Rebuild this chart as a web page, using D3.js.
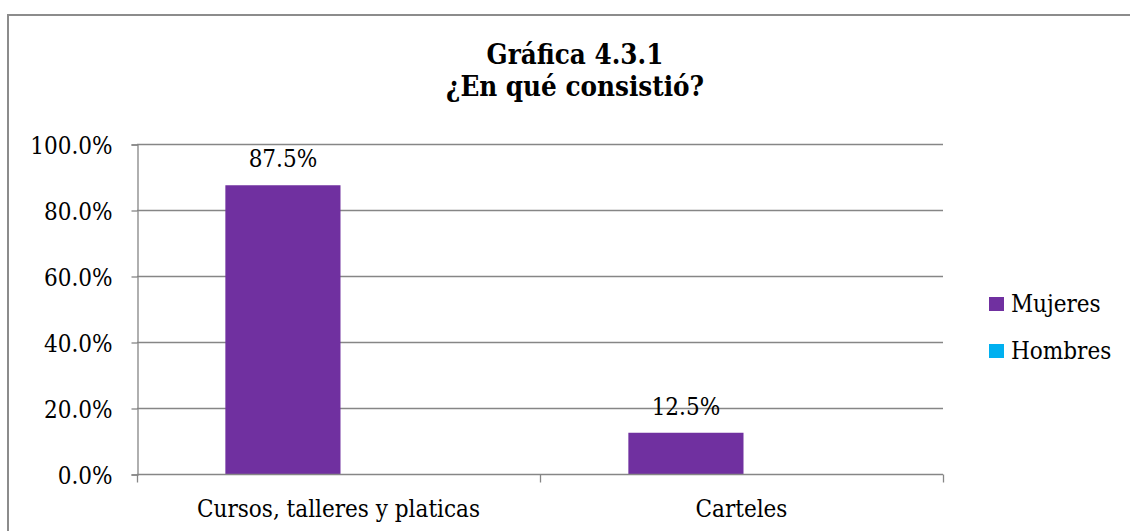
<!DOCTYPE html>
<html>
<head>
<meta charset="utf-8">
<script src="https://cdn.jsdelivr.net/npm/d3@7/dist/d3.min.js"></script>
<style>
  html, body { margin: 0; padding: 0; background: #fff; }
  svg { display: block; }
  text { font-family: "DejaVu Serif Condensed", "DejaVu Serif", serif; font-stretch: condensed; fill: #000; }
</style>
</head>
<body>
<svg id="chart" width="1130" height="531"></svg>
<script>
// Survey answers: "¿En qué consistió?"
const categories = ["Cursos, talleres y platicas", "Carteles"];
const seriesNames = ["Mujeres", "Hombres"];
const mujeres = [87.5, 12.5];
const hombres = [0, 0];
const yTicks = [0, 20, 40, 60, 80, 100];
const titleLines = ["Gráfica 4.3.1", "¿En qué consistió?"];

const colors = { Mujeres: "#7030A0", Hombres: "#00B0F0" };
const gridColor = "#868686";
const labelSize = 24;

const svg = d3.select("#chart");

// Chart frame (runs past the right and bottom edges of the view)
svg.append("rect")
  .attr("x", 8).attr("y", 15)
  .attr("width", 1140).attr("height", 540)
  .attr("fill", "none")
  .attr("stroke", "#8c8c8c")
  .attr("stroke-width", 2);

// Title, one text element per line
svg.append("g")
  .selectAll("text")
  .data(titleLines)
  .join("text")
  .attr("x", 575)
  .attr("y", (d, i) => 64 + i * 32)
  .attr("text-anchor", "middle")
  .attr("font-weight", "bold")
  .attr("font-size", 27.5)
  .text(d => d);

const plot = { left: 137, right: 943, top: 144, bottom: 474 };

const x = d3.scaleBand()
  .domain(categories)
  .range([plot.left, plot.right])
  .paddingInner(0)
  .paddingOuter(0);

const xSeries = d3.scaleBand()
  .domain(seriesNames)
  .range([0, x.bandwidth()])
  .paddingInner(0)
  .paddingOuter(0.75);

const y = d3.scaleLinear()
  .domain([0, 100])
  .range([plot.bottom, plot.top]);

// Horizontal gridlines
svg.append("g")
  .selectAll("line")
  .data(yTicks.filter(d => d > 0))
  .join("line")
  .attr("x1", plot.left)
  .attr("x2", plot.right)
  .attr("y1", d => y(d) + 0.5)
  .attr("y2", d => y(d) + 0.5)
  .attr("stroke", gridColor)
  .attr("stroke-width", 1.3);

// Y axis
const yAxis = d3.axisLeft(y)
  .tickValues(yTicks)
  .tickSize(6)
  .tickPadding(19)
  .tickFormat(d => d.toFixed(1) + "%");

const gy = svg.append("g")
  .attr("transform", `translate(${plot.left + 0.5},0.5)`)
  .call(yAxis);
gy.select(".domain").attr("stroke", gridColor).attr("stroke-width", 1.3);
gy.selectAll(".tick line").attr("stroke", gridColor).attr("stroke-width", 1.3);
gy.selectAll(".tick text")
  .attr("font-size", labelSize)
  .attr("font-family", null)
  .attr("fill", "#000")
  .attr("dy", "0.36em");

// Bars
const rows = categories.map((c, i) => ({
  category: c,
  values: [
    { series: "Mujeres", value: mujeres[i] },
    { series: "Hombres", value: hombres[i] }
  ]
}));

const groups = svg.append("g")
  .selectAll("g")
  .data(rows)
  .join("g")
  .attr("transform", d => `translate(${x(d.category) + 2},0)`);

groups.selectAll("rect")
  .data(d => d.values.filter(v => v.value > 0))
  .join("rect")
  .attr("x", d => xSeries(d.series))
  .attr("width", xSeries.bandwidth())
  .attr("y", d => y(d.value))
  .attr("height", d => y(0) - y(d.value))
  .attr("fill", d => colors[d.series]);

groups.selectAll("text.value")
  .data(d => d.values.filter(v => v.value > 0))
  .join("text")
  .attr("class", "value")
  .attr("x", d => xSeries(d.series) + xSeries.bandwidth() / 2)
  .attr("y", d => y(d.value) - 18)
  .attr("text-anchor", "middle")
  .attr("font-size", labelSize)
  .text(d => d.value.toFixed(1) + "%");

// X axis
const gx = svg.append("g")
  .attr("transform", `translate(0,${plot.bottom + 0.5})`);
gx.append("line")
  .attr("x1", plot.left).attr("x2", plot.right)
  .attr("stroke", gridColor).attr("stroke-width", 1.3);
const boundaries = [plot.left, ...categories.map(c => x(c) + x.bandwidth())];
gx.selectAll("line.tick")
  .data(boundaries)
  .join("line")
  .attr("class", "tick")
  .attr("x1", d => d + 0.5).attr("x2", d => d + 0.5)
  .attr("y1", 0).attr("y2", 8)
  .attr("stroke", gridColor).attr("stroke-width", 1.3);
gx.selectAll("text")
  .data(categories)
  .join("text")
  .attr("x", d => x(d) + x.bandwidth() / 2)
  .attr("y", 42)
  .attr("text-anchor", "middle")
  .attr("font-size", labelSize)
  .text(d => d);

// Legend
const legend = svg.append("g")
  .attr("transform", "translate(989,297)");
const items = legend.selectAll("g")
  .data(seriesNames)
  .join("g")
  .attr("transform", (d, i) => `translate(0,${i * 47})`);
items.append("rect")
  .attr("width", 15).attr("height", 14)
  .attr("fill", d => colors[d]);
items.append("text")
  .attr("x", 22)
  .attr("y", 14.5)
  .attr("font-size", labelSize)
  .text(d => d);
</script>
</body>
</html>
